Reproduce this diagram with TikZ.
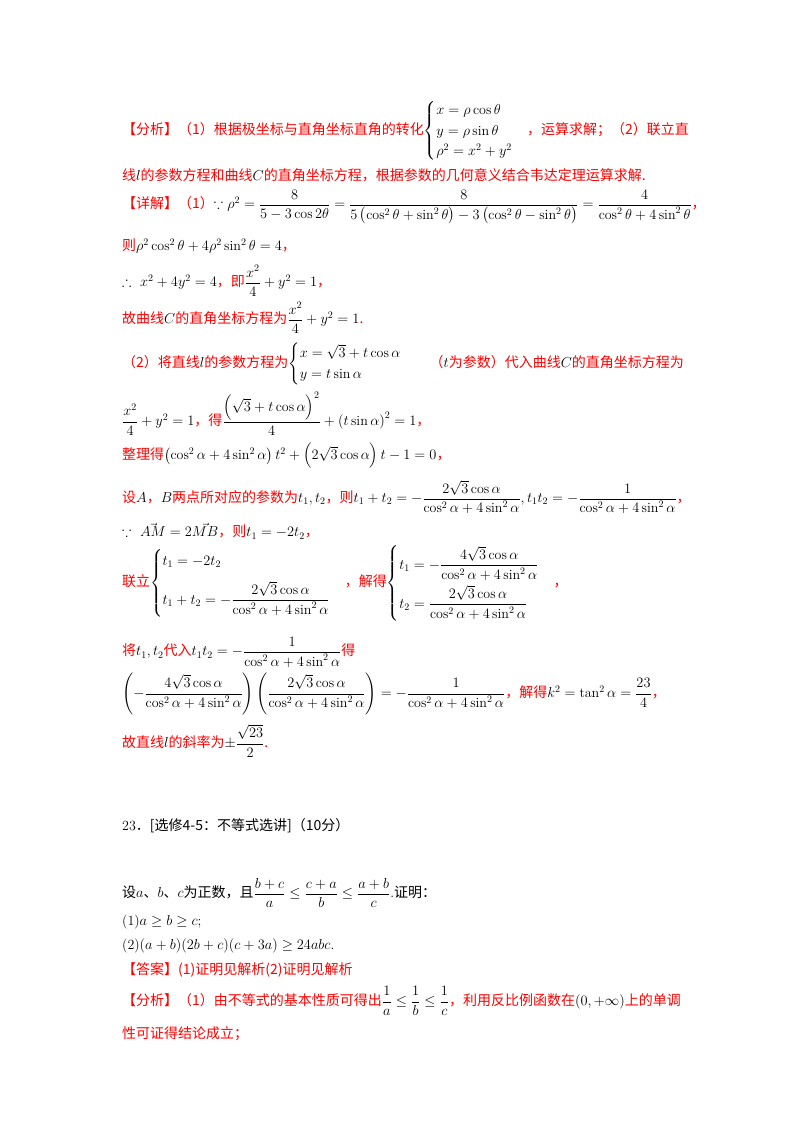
\documentclass[tikz,border=0pt]{standalone}
\usepackage{fontspec}
\usepackage{amsmath,amssymb}
\newfontfamily\cjk{Noto Sans CJK SC}
\definecolor{rd}{rgb}{1,0,0}
\newcommand\rr[1]{\textcolor{rd}{\cjk #1}}
\newcommand\kk[1]{{\cjk #1}}
\begin{document}
\begin{tikzpicture}[x=1pt,y=-1pt,
  ln/.style={anchor=west,inner sep=0pt,font=\fontsize{14}{17}\selectfont}]
\useasboundingbox (0,0) rectangle (800,1132);
\fill[white] (0,0) rectangle (800,1132);
\node[ln] (a1) at (122,131) {\rr{【分析】（1）根据极坐标与直角坐标直角的转化}$\begin{cases}x=\rho\cos\theta\\ y=\rho\sin\theta\\ \rho^2=x^2+y^2\end{cases}$\rr{，运算求解；（2）联立直}};
\node[ln] (a2) at (122,175) {\rr{线}$l$\rr{的参数方程和曲线}$C$\rr{的直角坐标方程，根据参数的几何意义结合韦达定理运算求解.}};
\node[ln] (a3) at (122,207) {\rr{【详解】（1）}$\because\rho^2=\dfrac{8}{5-3\cos2\theta}=\dfrac{8}{5\left(\cos^2\theta+\sin^2\theta\right)-3\left(\cos^2\theta-\sin^2\theta\right)}=\dfrac{4}{\cos^2\theta+4\sin^2\theta}$\rr{，}};
\node[ln] (a4) at (122,246) {\rr{则}$\rho^2\cos^2\theta+4\rho^2\sin^2\theta=4$\rr{，}};
\node[ln] (a5) at (122,281) {$\therefore\ x^2+4y^2=4$\rr{，即}$\dfrac{x^2}{4}+y^2=1$\rr{，}};
\node[ln] (a6) at (122,318) {\rr{故曲线}$C$\rr{的直角坐标方程为}$\dfrac{x^2}{4}+y^2=1$\rr{.}};
\node[ln] (a7) at (122,364) {\rr{（2）将直线}$l$\rr{的参数方程为}$\begin{cases}x=\sqrt3+t\cos\alpha\\ y=t\sin\alpha\end{cases}$\quad\rr{（}$t$\rr{为参数）代入曲线}$C$\rr{的直角坐标方程为}};
\node[ln] (a8) at (122,414) {$\dfrac{x^2}{4}+y^2=1$\rr{，得}$\dfrac{\left(\sqrt3+t\cos\alpha\right)^2}{4}+\left(t\sin\alpha\right)^2=1$\rr{，}};
\node[ln] (a9) at (122,456) {\rr{整理得}$\left(\cos^2\alpha+4\sin^2\alpha\right)t^2+\left(2\sqrt3\cos\alpha\right)t-1=0$\rr{，}};
\node[ln] (a10) at (122,497) {\rr{设}$A$\rr{，}$B$\rr{两点所对应的参数为}$t_1,t_2$\rr{，则}$t_1+t_2=-\dfrac{2\sqrt3\cos\alpha}{\cos^2\alpha+4\sin^2\alpha},t_1t_2=-\dfrac{1}{\cos^2\alpha+4\sin^2\alpha}$\rr{，}};
\node[ln] (a11) at (122,531) {$\because\ \vec{AM}=2\vec{MB}$\rr{，则}$t_1=-2t_2$\rr{，}};
\node[ln] (a12) at (122,583) {\rr{联立}$\begin{cases}t_1=-2t_2\\[10pt] t_1+t_2=-\dfrac{2\sqrt3\cos\alpha}{\cos^2\alpha+4\sin^2\alpha}\end{cases}$\rr{，解得}$\begin{cases}t_1=-\dfrac{4\sqrt3\cos\alpha}{\cos^2\alpha+4\sin^2\alpha}\\[10pt] t_2=\dfrac{2\sqrt3\cos\alpha}{\cos^2\alpha+4\sin^2\alpha}\end{cases}$\rr{，}};
\node[ln] (a13) at (122,652) {\rr{将}$t_1,t_2$\rr{代入}$t_1t_2=-\dfrac{1}{\cos^2\alpha+4\sin^2\alpha}$\rr{得}};
\node[ln] (a14) at (122,694) {$\left(-\dfrac{4\sqrt3\cos\alpha}{\cos^2\alpha+4\sin^2\alpha}\right)\left(\dfrac{2\sqrt3\cos\alpha}{\cos^2\alpha+4\sin^2\alpha}\right)=-\dfrac{1}{\cos^2\alpha+4\sin^2\alpha}$\rr{，解得}$k^2=\tan^2\alpha=\dfrac{23}{4}$\rr{，}};
\node[ln] (a15) at (122,741) {\rr{故直线}$l$\rr{的斜率为}$\pm\dfrac{\sqrt{23}}{2}$\rr{.}};
\node[ln] (b1) at (122,826) {23\kk{．[选修4-5：不等式选讲]（10分）}};
\node[ln] (b2) at (122,893) {\kk{设}$a$\kk{、}$b$\kk{、}$c$\kk{为正数，且}$\dfrac{b+c}{a}\le\dfrac{c+a}{b}\le\dfrac{a+b}{c}$.\kk{证明：}};
\node[ln] (b3) at (122,922) {(1)$a\ge b\ge c$;};
\node[ln] (b4) at (122,946) {(2)$(a+b)(2b+c)(c+3a)\ge24abc$.};
\node[ln] (b5) at (122,970) {\rr{【答案】(1)证明见解析(2)证明见解析}};
\node[ln] (b6) at (122,1001) {\rr{【分析】（1）由不等式的基本性质可得出}$\dfrac1a\le\dfrac1b\le\dfrac1c$\rr{，利用反比例函数在}$(0,+\infty)$\rr{上的单调}};
\node[ln] (b7) at (122,1034) {\rr{性可证得结论成立；}};
\end{tikzpicture}
\end{document}
